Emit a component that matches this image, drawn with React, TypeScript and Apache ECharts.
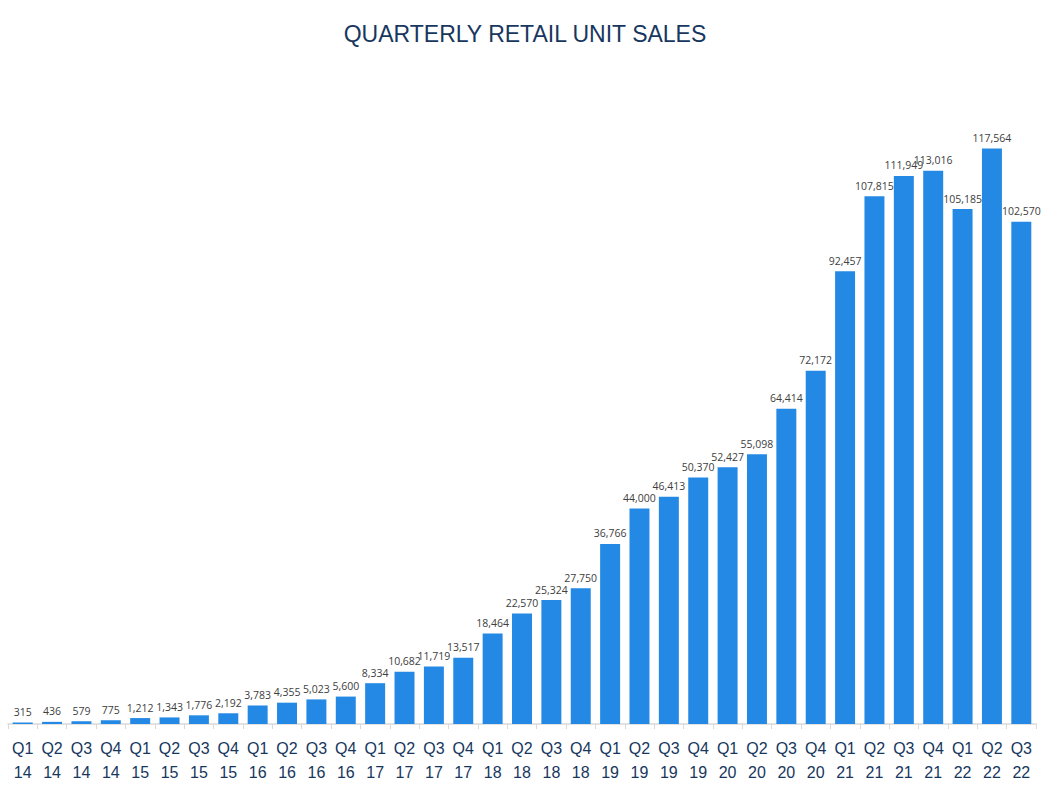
import React, { useEffect, useRef } from "react";
import * as echarts from "echarts";

const quarters = [
  "Q1\n14","Q2\n14","Q3\n14","Q4\n14",
  "Q1\n15","Q2\n15","Q3\n15","Q4\n15",
  "Q1\n16","Q2\n16","Q3\n16","Q4\n16",
  "Q1\n17","Q2\n17","Q3\n17","Q4\n17",
  "Q1\n18","Q2\n18","Q3\n18","Q4\n18",
  "Q1\n19","Q2\n19","Q3\n19","Q4\n19",
  "Q1\n20","Q2\n20","Q3\n20","Q4\n20",
  "Q1\n21","Q2\n21","Q3\n21","Q4\n21",
  "Q1\n22","Q2\n22","Q3\n22",
];

const unitSales = [
  315, 436, 579, 775,
  1212, 1343, 1776, 2192,
  3783, 4355, 5023, 5600,
  8334, 10682, 11719, 13517,
  18464, 22570, 25324, 27750,
  36766, 44000, 46413, 50370,
  52427, 55098, 64414, 72172,
  92457, 107815, 111949, 113016,
  105185, 117564, 102570,
];

const titleText = "QUARTERLY RETAIL UNIT SALES";

export default function App() {
  const ref = useRef<HTMLDivElement>(null);
  useEffect(() => {
    if (!ref.current) return;
    const chart = echarts.init(ref.current, null, { renderer: "svg" });
    chart.setOption({
      animation: false,
      backgroundColor: "#ffffff",
      title: {
        text: titleText,
        left: "center",
        top: 17,
        textStyle: {
          fontFamily: "Liberation Sans",
          fontSize: 23,
          fontWeight: "normal",
          color: "#17375e",
        },
      },
      grid: { left: 8, right: 14, top: 112, bottom: 62, containLabel: false },
      xAxis: {
        type: "category",
        data: quarters,
        axisLine: { lineStyle: { color: "#d9d9d9", width: 1.5 } },
        axisTick: { show: true, length: 5, lineStyle: { color: "#d9d9d9" } },
        axisLabel: {
          interval: 0,
          margin: 12,
          fontFamily: "Liberation Sans",
          fontSize: 16,
          lineHeight: 24,
          color: "#17375e",
        },
      },
      yAxis: {
        type: "value",
        min: 0,
        max: 125000,
        show: false,
        splitLine: { show: false },
      },
      series: [
        {
          type: "bar",
          data: unitSales,
          barWidth: "68%",
          itemStyle: { color: "#2389e4" },
          label: {
            show: true,
            position: "top",
            distance: 5,
            fontFamily: "Open Sans",
            fontSize: 10.5,
            color: "#404040",
            formatter: (p: any) => Number(p.value).toLocaleString("en-US"),
          },
        },
      ],
    });
    return () => chart.dispose();
  }, []);
  return <div ref={ref} style={{ width: 1050, height: 786, position: "absolute", left: 0, top: 0 }} />;
}
